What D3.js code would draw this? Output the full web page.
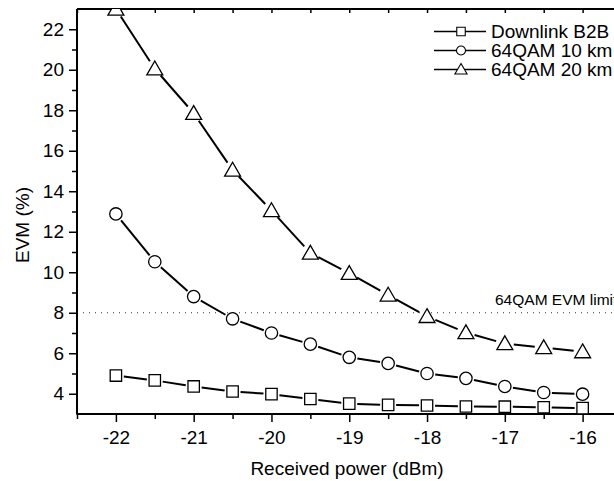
<!DOCTYPE html>
<html><head><meta charset="utf-8">
<script src="https://cdn.jsdelivr.net/npm/d3@7"></script>
<style>body{margin:0;background:#fff}svg{display:block}text{font-family:"Liberation Sans",Arial,sans-serif;fill:#000}</style>
</head><body>
<svg id="c" width="614" height="481"></svg>
<script>
const xValues = [-22,-21.5,-21,-20.5,-20,-19.5,-19,-18.5,-18,-17.5,-17,-16.5,-16];
const b2b   = [4.9,4.66,4.36,4.11,3.98,3.74,3.51,3.45,3.42,3.37,3.36,3.33,3.29];
const km10  = [12.88,10.52,8.8,7.7,7.0,6.45,5.8,5.5,5.0,4.76,4.36,4.06,3.98];
const km20  = [23.0,20.05,17.85,15.05,13.05,10.95,9.95,8.88,7.82,7.02,6.48,6.28,6.08];
const seriesNames = ["Downlink B2B","64QAM 10 km","64QAM 20 km"];
const xTicks = [-22,-21,-20,-19,-18,-17,-16];
const yTicks = [4,6,8,10,12,14,16,18,20,22];
const limitValue = 8;
const limitLabel = "64QAM EVM limit";
const xLabel = "Received power (dBm)";
const yLabel = "EVM (%)";

const FONT = "'Liberation Sans', Arial, sans-serif";
const svg = d3.select("#c");
const L=77, R=621.5, T=9, B=414;
const x = d3.scaleLinear().domain([-22.5,-15.5]).range([L,R]);
const y = d3.scaleLinear().domain([3,23]).range([B,T]);
const FS = 19;

svg.append("defs").append("clipPath").attr("id","clip")
  .append("rect").attr("x",L).attr("y",T).attr("width",R-L).attr("height",B-T);

// limit line
svg.append("line").attr("x1",L).attr("x2",R).attr("y1",y(limitValue)).attr("y2",y(limitValue))
  .attr("stroke","#333").attr("stroke-width",1).attr("stroke-dasharray","1,5");
svg.append("text").attr("x",495).attr("y",y(limitValue)-8).attr("font-size",15.5).text(limitLabel);

// axes
const gx = svg.append("g").attr("transform",`translate(0,${B})`)
  .call(d3.axisBottom(x).tickValues(xTicks).tickFormat(d=>String(d)).tickSize(8).tickPadding(9));
const gxm = svg.append("g").attr("transform",`translate(0,${B})`)
  .call(d3.axisBottom(x).tickValues(d3.range(-22.5,-15.4,0.5).filter(v=>!xTicks.includes(v))).tickFormat("").tickSize(5));
const gt = svg.append("g").attr("transform",`translate(0,${T})`)
  .call(d3.axisBottom(x).tickValues(d3.range(-22.5,-15.4,0.5)).tickFormat("").tickSize(4));
const gy = svg.append("g").attr("transform",`translate(${L},0)`)
  .call(d3.axisLeft(y).tickValues(yTicks).tickFormat(d=>String(d)).tickSize(8).tickPadding(5));
const gym = svg.append("g").attr("transform",`translate(${L},0)`)
  .call(d3.axisLeft(y).tickValues([5,7,9,11,13,15,17,19,21]).tickFormat("").tickSize(5));
[gx,gxm,gt,gy,gym].forEach(g=>{
  g.selectAll(".domain").remove();
  g.selectAll("line").attr("stroke","#000").attr("stroke-width",1.5);
  g.selectAll("text").attr("font-size",FS).attr("font-family",FONT).attr("fill","#000");
});
// axis lines
svg.append("line").attr("x1",L).attr("x2",R).attr("y1",B).attr("y2",B).attr("stroke","#000").attr("stroke-width",2);
svg.append("line").attr("x1",L).attr("x2",R).attr("y1",T).attr("y2",T).attr("stroke","#000").attr("stroke-width",2);
svg.append("line").attr("x1",L).attr("x2",L).attr("y1",T).attr("y2",B+0.5).attr("stroke","#000").attr("stroke-width",2);

// titles
svg.append("text").attr("x",347).attr("y",475).attr("text-anchor","middle").attr("font-size",FS).text(xLabel);
svg.append("text").attr("transform",`translate(29,225) rotate(-90)`).attr("text-anchor","middle").attr("font-size",FS).text(yLabel);

// series
const symbols = [d3.symbolSquare, d3.symbolCircle, d3.symbolTriangle];
const sizes = [130, 120, 110];
const radii = [6, 6.2, 7];
const data = [b2b, km10, km20];
const plot = svg.append("g").attr("clip-path","url(#clip)");
data.forEach((vals,si)=>{
  const pts = xValues.map((xv,i)=>[x(xv),y(vals[i])]);
  const segs = d3.pairs(pts);
  const gap = radii[si]+2;
  plot.selectAll(null).data(segs).enter().append("line")
    .each(function([a,b]){
      const dx=b[0]-a[0], dy=b[1]-a[1], len=Math.hypot(dx,dy);
      const ux=dx/len, uy=dy/len;
      d3.select(this).attr("x1",a[0]+ux*gap).attr("y1",a[1]+uy*gap)
        .attr("x2",b[0]-ux*gap).attr("y2",b[1]-uy*gap);
    })
    .attr("stroke","#000").attr("stroke-width",2);
  plot.selectAll(null).data(pts).enter().append("path")
    .attr("transform",d=>`translate(${d[0]},${d[1] + (si===2?1.5:0)})`)
    .attr("d",d3.symbol().type(symbols[si]).size(sizes[si]))
    .attr("fill","#fff").attr("stroke","#000").attr("stroke-width",1.3);
});

// legend
const legY = [31.5, 50.5, 69.5];
const leg = svg.append("g");
seriesNames.forEach((n,i)=>{
  leg.append("line").attr("x1",434).attr("x2",486).attr("y1",legY[i]).attr("y2",legY[i]).attr("stroke","#000").attr("stroke-width",1.5);
  leg.append("path").attr("transform",`translate(461,${legY[i]+(i===2?1:0)})`)
    .attr("d",d3.symbol().type(symbols[i]).size([72,64,64][i])).attr("fill","#fff").attr("stroke","#000").attr("stroke-width",1.1);
  leg.append("text").attr("x",491).attr("y",legY[i]).attr("dy","0.35em").attr("font-size",FS).text(n);
});
</script>
</body></html>
